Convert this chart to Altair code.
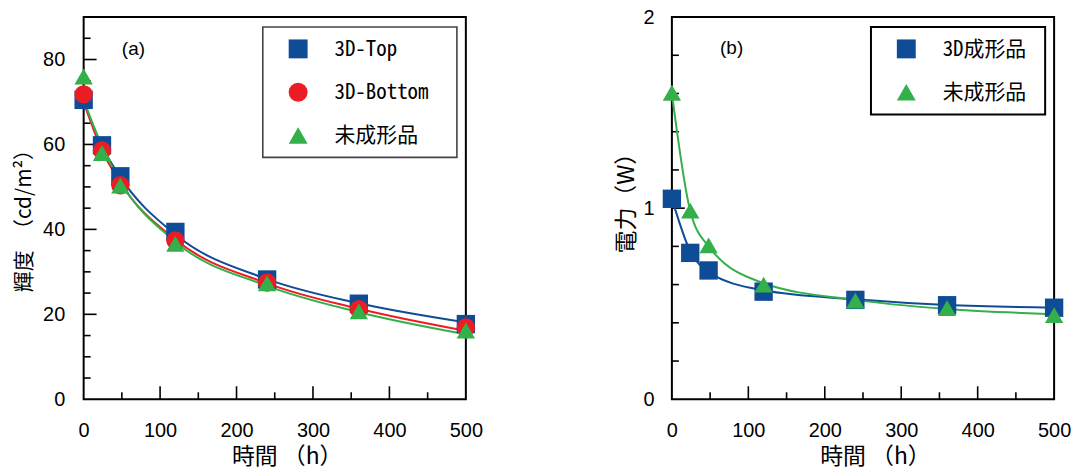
import altair as alt
import pandas as pd

# ---------------- data ----------------
hours = [0, 24, 48, 120, 240, 360, 500]

# (a) luminance, cd/m2
lum_names = ["3D-Top", "3D-Bottom", "未成形品"]
lum_top = [70.5, 59.8, 52.5, 39.4, 28.2, 22.5, 17.7]
lum_bottom = [71.8, 58.6, 50.4, 37.4, 27.5, 21.2, 16.9]
lum_untreated = [76.0, 58.0, 50.3, 36.6, 27.3, 20.7, 16.2]
# fitted curves (at the same times)
lum_fit_top = [70.0, 59.6, 52.3, 38.8, 28.3, 22.6, 18.1]
lum_fit_bottom = [70.0, 58.6, 51.0, 37.6, 27.3, 21.3, 16.1]
lum_fit_untreated = [70.5, 59.6, 51.3, 37.1, 26.7, 20.5, 15.3]

# (b) power, W
pow_names = ["3D成形品", "未成形品"]
pow_3d = [1.049, 0.766, 0.674, 0.563, 0.520, 0.492, 0.479]
pow_untreated = [1.604, 0.987, 0.805, 0.600, 0.516, 0.477, 0.440]
pow_fit_3d = [1.05, 0.775, 0.665, 0.570, 0.523, 0.493, 0.479]
pow_fit_untreated = [1.60, 0.985, 0.800, 0.607, 0.520, 0.472, 0.445]

# axis ticks / labels
hour_labels = [0, 100, 200, 300, 400, 500]
hour_ticks_major = [100, 200, 300, 400]
hour_ticks_minor = [50, 150, 250, 350, 450]
lum_labels = [0, 20, 40, 60, 80]
lum_ticks_major = [20, 40, 60, 80]
lum_ticks_minor = [5, 10, 15, 25, 30, 35, 45, 50, 55, 65, 70, 75, 85]
pow_labels = [0, 1, 2]
pow_ticks_major = [1.0]
pow_ticks_minor = [0.2, 0.4, 0.6, 0.8, 1.2, 1.4, 1.6, 1.8]

# ---------------- styling ----------------
BLUE = "#0F4C96"
RED = "#EC1C24"
GREEN = "#33B04A"
LATIN = "Liberation Sans"
CJK = "Noto Sans CJK JP"
MONO = "Noto Sans Mono CJK JP, Noto Sans CJK JP"
W = H = 384


def long_table(names, values, fits):
    rows = []
    for name, ys, fs in zip(names, values, fits):
        for h, y, f in zip(hours, ys, fs):
            rows.append({"series": name, "hours": h, "value": y, "fit": f})
    return pd.DataFrame(rows)


def panel(df, names, colors, shapes, ydom, ylabels, ytitle, ytitle_size,
          ytitle_x, ytitle_y, ylab_pad, ymajor, yminor, tag, tag_x, tag_y,
          box, box_stroke, box_width):
    xs = alt.Scale(domain=[0, 500], nice=False, zero=False)
    ys = alt.Scale(domain=ydom, nice=False, zero=False)
    xaxis = alt.Axis(values=hour_labels, title="時間 （h）", labelFont=LATIN,
                     labelFontSize=20, labelColor="black", labelPadding=21,
                     labelFlush=False, labelOverlap=False,
                     labelExpr="'' + datum.value",
                     ticks=False, tickSize=0, domain=False, grid=False,
                     titleFont=CJK, titleFontSize=23, titleFontWeight="normal",
                     titleColor="black", titleX=204, titleY=58,
                     titleAlign="center", titleBaseline="middle")
    yaxis = alt.Axis(values=ylabels, title=ytitle, labelFont=LATIN,
                     labelFontSize=20, labelColor="black", labelPadding=ylab_pad,
                     labelFlush=False, labelOverlap=False,
                     labelExpr="'' + datum.value",
                     ticks=False, tickSize=0, domain=False, grid=False,
                     titleFont=CJK, titleFontSize=ytitle_size,
                     titleFontWeight="normal", titleColor="black",
                     titleX=ytitle_x, titleY=ytitle_y, titleAngle=270,
                     titleAlign="center", titleBaseline="middle")
    cscale = alt.Scale(domain=names, range=colors)
    sscale = alt.Scale(domain=names, range=shapes)

    base = alt.Chart(df)
    lines = base.mark_line(interpolate="monotone", strokeWidth=2).encode(
        x=alt.X("hours:Q", scale=xs, axis=xaxis),
        y=alt.Y("fit:Q", scale=ys, axis=yaxis),
        stroke=alt.Stroke("series:N", scale=cscale, legend=None),
    )
    points = base.mark_point(filled=True, opacity=1, size=340, strokeWidth=0).encode(
        x=alt.X("hours:Q", scale=xs, axis=xaxis),
        y=alt.Y("value:Q", scale=ys, axis=yaxis),
        color=alt.Color("series:N", scale=cscale, legend=None),
        shape=alt.Shape("series:N", scale=sscale, legend=None),
    )

    def yticks(vals, length):
        return alt.Chart(pd.DataFrame({"t": vals})).mark_rule(
            color="black", strokeWidth=1.6).encode(
            y=alt.Y("t:Q", scale=ys, axis=yaxis),
            x=alt.value(0), x2=alt.value(length))

    def xticks(vals, length):
        return alt.Chart(pd.DataFrame({"t": vals})).mark_rule(
            color="black", strokeWidth=1.6).encode(
            x=alt.X("t:Q", scale=xs, axis=xaxis),
            y=alt.value(H), y2=alt.value(H - length))

    label = alt.Chart(pd.DataFrame({"tag": [tag]})).mark_text(
        font=LATIN, fontSize=19, color="black").encode(
        text="tag:N", x=alt.value(tag_x), y=alt.value(tag_y))

    # legend box (drawn from the same series list and scales)
    bx, by, bw, bh = box
    legend_layers = [
        alt.Chart(pd.DataFrame({"k": [0]})).mark_rect(
            fill="white", stroke=box_stroke, strokeWidth=box_width).encode(
            x=alt.value(bx), x2=alt.value(bx + bw),
            y=alt.value(by), y2=alt.value(by + bh))
    ]
    for i, name in enumerate(names):
        row = alt.Chart(pd.DataFrame({"series": [name]}))
        ry = by + 22 + 43.5 * i
        legend_layers.append(row.mark_point(
            filled=True, opacity=1, size=361, strokeWidth=0).encode(
            x=alt.value(bx + 35.5), y=alt.value(ry),
            color=alt.Color("series:N", scale=cscale, legend=None),
            shape=alt.Shape("series:N", scale=sscale, legend=None)))
        legend_layers.append(row.mark_text(
            align="left", baseline="middle", font=MONO, fontSize=21,
            color="black").encode(
            text="series:N", x=alt.value(bx + 72), y=alt.value(ry + 1)))

    return alt.layer(
        yticks(ymajor, 13), yticks(yminor, 7),
        xticks(hour_ticks_major, 13), xticks(hour_ticks_minor, 7),
        lines, points, label, *legend_layers,
    ).properties(width=W, height=H)


lum_df = long_table(lum_names, [lum_top, lum_bottom, lum_untreated],
                    [lum_fit_top, lum_fit_bottom, lum_fit_untreated])
pow_df = long_table(pow_names, [pow_3d, pow_untreated],
                    [pow_fit_3d, pow_fit_untreated])

left = panel(lum_df, lum_names, [BLUE, RED, GREEN],
             ["square", "circle", "triangle-up"], [0, 90], lum_labels,
             "輝度\u3000（cd/m²）", 21, -59, 199, 19,
             lum_ticks_major, lum_ticks_minor, "(a)", 50, 32,
             (180, 10, 195, 131), "#444444", 1.6)
right = panel(pow_df, pow_names, [BLUE, GREEN], ["square", "triangle-up"],
              [0, 2], pow_labels, "電力（W）", 23, -46, 181, 18,
              pow_ticks_major, pow_ticks_minor, "(b)", 60, 31,
              (200, 10, 175, 88), "black", 2)

chart = alt.hconcat(left, right, spacing=207, bounds="flush").resolve_scale(
    color="independent", shape="independent", stroke="independent"
).properties(
    padding={"left": 5, "top": -3, "right": 5, "bottom": 2}
).configure_view(
    stroke="black", strokeWidth=2
)

chart.save("out.html", embed_options={"renderer": "svg", "actions": False})
